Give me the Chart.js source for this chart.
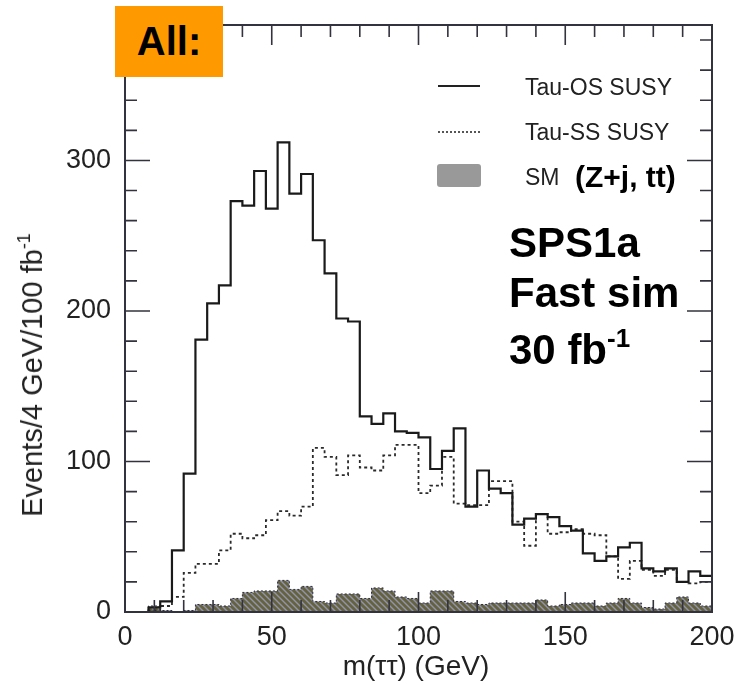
<!DOCTYPE html>
<html>
<head>
<meta charset="utf-8">
<script src="https://cdn.jsdelivr.net/npm/chart.js@4"></script>
<style>
  body { margin: 0; background: #fff; }
  #wrap { position: relative; width: 738px; height: 685px; font-family: "Liberation Sans", Arial, sans-serif; }
  #wrap div.t { position: absolute; white-space: nowrap; line-height: 1; color: #111; }
  .b { font-weight: bold; color: #000 !important; }
</style>
</head>
<body>
<div id="wrap">
  <canvas id="mttChart" width="738" height="685"></canvas>

  <div class="t" style="left:115px;top:6px;width:108px;height:71px;background:#ff9900;"></div>
  <div class="t b" style="left:115px;top:21px;width:108px;text-align:center;font-size:40px;">All:</div>

  <!-- legend -->
  <div class="t" style="left:438px;top:85px;width:42px;border-top:2px solid #222;"></div>
  <div class="t" style="left:438px;top:131px;width:42px;border-top:2px dotted #555;"></div>
  <div class="t" style="left:437px;top:164px;width:44px;height:23px;background:#999;border-radius:3px;"></div>
  <div class="t" style="left:525px;top:76px;font-size:23px;color:#222;">Tau-OS SUSY</div>
  <div class="t" style="left:525px;top:121px;font-size:23px;color:#222;">Tau-SS SUSY</div>
  <div class="t" style="left:525px;top:166px;font-size:23px;color:#222;">SM</div>
  <div class="t b" style="left:575px;top:162px;font-size:30px;">(Z+j, tt)</div>

  <div class="t b" style="left:509px;top:222px;font-size:42px;">SPS1a</div>
  <div class="t b" style="left:509px;top:272px;font-size:42px;">Fast sim</div>
  <div class="t b" style="left:509px;top:325px;font-size:42px;">30 fb<sup style="font-size:26px;vertical-align:17px;">-1</sup></div>

  <!-- axis titles -->
  <div class="t" style="left:31px;top:375px;font-size:29px;color:#222;transform:translate(-50%,-50%) rotate(-90deg);">Events/4 GeV/100 fb<sup style="font-size:18px;vertical-align:12px;">-1</sup></div>
  <div class="t" style="left:416px;top:652px;font-size:28px;color:#222;transform:translateX(-50%);">m(ττ) (GeV)</div>
</div>

<script>
// histogram binning: 50 bins of 4 GeV from 0 to 200
const binLow = 0;
const binWidth = 4;

// Tau-OS SUSY (solid)
const osSusy = [0, 0, 3, 7, 41, 92, 181, 205, 217, 273,
                270, 293, 268, 312, 278, 291, 247, 225, 195, 193,
                130, 125, 132, 120, 119, 116, 95, 107, 122, 70,
                94, 82, 79, 58, 62, 65, 63, 57, 54, 39,
                34, 37, 43, 46, 29, 27, 29, 20, 27, 24];

// Tau-SS SUSY (dashed)
const ssSusy = [0, 0, 1, 4, 10, 26, 32, 32, 41, 52,
                49, 51, 61, 67, 64, 70, 109, 103, 91, 104,
                96, 94, 104, 111, 111, 79, 84, 103, 72, 71,
                71, 87, 87, 60, 44, 65, 52, 53, 55, 52,
                51, 37, 22, 34, 28, 24, 28, 20, 19, 20];

// SM (Z+j, tt) background (hatched fill)
const smBkg = [0, 0, 4, 1, 0, 1, 5, 5, 4, 9,
               13, 14, 14, 21, 15, 17, 7, 6, 12, 12,
               9, 16, 14, 10, 9, 6, 14, 14, 7, 6,
               5, 6, 6, 6, 6, 8, 4, 5, 6, 6,
               4, 6, 9, 6, 3, 2, 6, 10, 6, 4];

const xTicks = [0, 50, 100, 150, 200];
const yTicks = [0, 100, 200, 300];
const xMax = 200;
const yMax = 390;

// bin contents -> step points at low bin edges (last edge repeats last bin)
function steps(vals) {
  const pts = vals.map((v, i) => ({ x: binLow + i * binWidth, y: v }));
  pts.push({ x: binLow + vals.length * binWidth, y: vals[vals.length - 1] });
  return pts;
}

function hatch() {
  const c = document.createElement('canvas');
  c.width = 6; c.height = 6;
  const g = c.getContext('2d');
  g.fillStyle = '#65623f';
  g.fillRect(0, 0, 6, 6);
  g.strokeStyle = '#9193ad';
  g.lineWidth = 1.4;
  g.beginPath();
  g.moveTo(0, 0); g.lineTo(6, 6);
  g.moveTo(-3, 3); g.lineTo(3, 9);
  g.moveTo(3, -3); g.lineTo(9, 3);
  g.stroke();
  return g.createPattern(c, 'repeat');
}

// frame with inward ticks on all four sides
const framePlugin = {
  id: 'frame',
  afterDatasetsDraw(chart) {
    const { ctx, chartArea: a, scales: { x, y } } = chart;
    ctx.save();
    ctx.strokeStyle = '#33333f';
    ctx.lineWidth = 2;
    ctx.strokeRect(a.left, a.top, a.right - a.left, a.bottom - a.top);
    ctx.lineWidth = 1.6;
    ctx.beginPath();
    for (let v = 0; v <= xMax; v += 10) {
      const px = x.getPixelForValue(v);
      const len = v % 50 === 0 ? 20 : 12;
      ctx.moveTo(px, a.bottom); ctx.lineTo(px, a.bottom - len);
      ctx.moveTo(px, a.top); ctx.lineTo(px, a.top + len);
    }
    for (let v = 0; v <= yMax; v += 20) {
      const py = y.getPixelForValue(v);
      const len = v % 100 === 0 ? 25 : 12;
      ctx.moveTo(a.left, py); ctx.lineTo(a.left + len, py);
      ctx.moveTo(a.right, py); ctx.lineTo(a.right - len, py);
    }
    ctx.stroke();
    ctx.restore();
  }
};

const tickFont = { family: '"Liberation Sans", Arial, sans-serif', size: 27 };

new Chart(document.getElementById('mttChart'), {
  type: 'line',
  data: {
    datasets: [
      {
        label: 'Tau-OS SUSY',
        data: steps(osSusy),
        stepped: 'before',
        borderColor: '#1a1a1a',
        borderWidth: 2.2,
        pointRadius: 0,
        fill: false,
        order: 1
      },
      {
        label: 'Tau-SS SUSY',
        data: steps(ssSusy),
        stepped: 'before',
        borderColor: '#2a2a2a',
        borderWidth: 1.8,
        borderDash: [3, 3],
        pointRadius: 0,
        fill: false,
        order: 2
      },
      {
        label: 'SM',
        data: steps(smBkg),
        stepped: 'before',
        borderColor: '#2d2d48',
        borderWidth: 1,
        borderDash: [2, 2],
        backgroundColor: hatch(),
        pointRadius: 0,
        fill: 'origin',
        order: 3
      }
    ]
  },
  options: {
    responsive: false,
    animation: false,
    layout: { padding: { left: 0, right: 26, top: 25, bottom: 0 } },
    plugins: { legend: { display: false }, tooltip: { enabled: false } },
    scales: {
      x: {
        type: 'linear',
        min: 0,
        max: xMax,
        grid: { display: false, drawTicks: false },
        border: { display: false },
        ticks: { font: tickFont, color: '#222', padding: 9, maxRotation: 0 },
        afterBuildTicks: s => { s.ticks = xTicks.map(v => ({ value: v })); },
        afterFit: s => { s.height = 73; s.paddingLeft = 0; s.paddingRight = 0; }
      },
      y: {
        type: 'linear',
        min: 0,
        max: yMax,
        grid: { display: false, drawTicks: false },
        border: { display: false },
        ticks: { font: tickFont, color: '#222', padding: 14 },
        afterBuildTicks: s => { s.ticks = yTicks.map(v => ({ value: v })); },
        afterFit: s => { s.width = 125; s.paddingTop = 0; s.paddingBottom = 0; }
      }
    }
  },
  plugins: [framePlugin]
});
</script>
</body>
</html>
